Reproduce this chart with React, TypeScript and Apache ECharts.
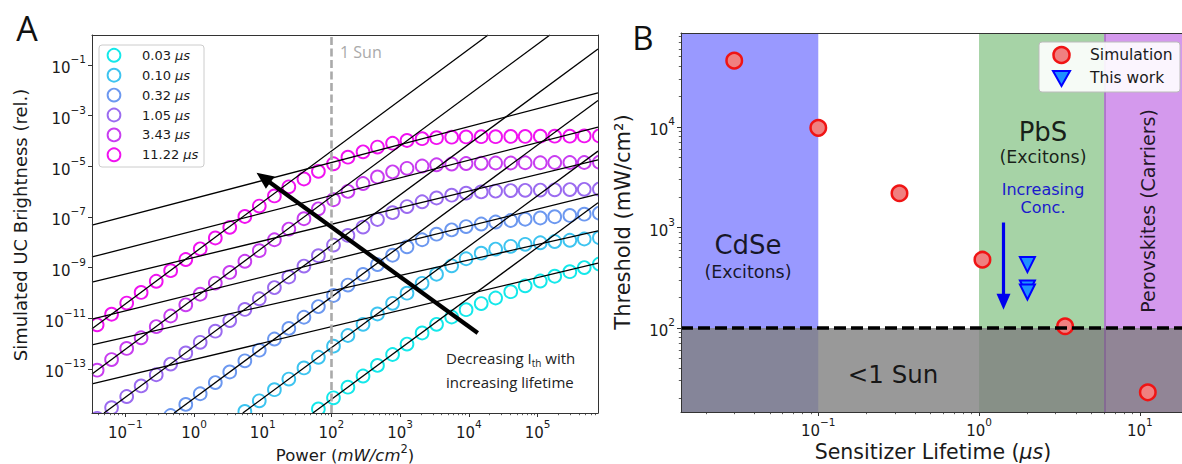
import React, { useEffect, useRef } from 'react';
import * as echarts from 'echarts';

// ---------------- Panel A: simulated UC brightness vs. excitation power ----------------
const lifetimeLabels = ['0.03', '0.10', '0.32', '1.05', '3.43', '11.22'];
const lifetimeColors = ['#14e8ea', '#3dc4f0', '#6c98f0', '#9b6bf0', '#c83df0', '#f012f0'];

// log10 of the excitation power at each simulated point (mW/cm^2)
const powerExp = [
  -1.41, -1.2, -0.98, -0.77, -0.55, -0.34, -0.12, 0.09, 0.31, 0.52, 0.74, 0.95, 1.17, 1.38, 1.6, 1.81, 2.03, 2.24,
  2.46, 2.67, 2.89, 3.1, 3.32, 3.53, 3.75, 3.96, 4.18, 4.39, 4.61, 4.82, 5.04, 5.25, 5.47, 5.68, 5.9,
];

// log10 of the simulated UC brightness for each sensitizer lifetime (null = below the plotted range)
const brightness003 = [
  null, null, null, null, null, null, null, null, null, null, null, null, null, null, null,
  -14.58, -14.14, -13.72, -13.28, -12.86, -12.43, -12.02, -11.58, -11.24, -10.95, -10.66, -10.42, -10.2, -9.95,
  -9.72, -9.53, -9.34, -9.16, -9.0, -8.86,
];
const brightness010 = [
  null, null, null, null, null, null, null, null, null, null,
  -14.68, -14.26, -13.82, -13.4, -12.96, -12.54, -12.1, -11.68, -11.24, -10.83, -10.41, -10.01, -9.62, -9.26,
  -8.93, -8.65, -8.43, -8.27, -8.16, -8.08, -8.02, -7.97, -7.92, -7.87, -7.82,
];
const brightness032 = [
  null, null, null, null, null,
  -14.84, -14.4, -13.98, -13.54, -13.12, -12.68, -12.26, -11.82, -11.4, -10.96, -10.54, -10.1, -9.69, -9.27,
  -8.88, -8.51, -8.18, -7.9, -7.68, -7.51, -7.38, -7.28, -7.2, -7.14, -7.09, -7.04, -6.99, -6.94, -6.89, -6.85,
];
const brightness105 = [
  -14.95, -14.53, -14.09, -13.67, -13.23, -12.81, -12.37, -11.95, -11.51, -11.09, -10.65, -10.23, -9.79, -9.37,
  -8.94, -8.53, -8.11, -7.73, -7.4, -7.1, -6.83, -6.59, -6.4, -6.25, -6.14, -6.06, -6.01, -5.98, -5.96, -5.95,
  -5.94, -5.93, -5.92, -5.91, -5.9,
];
const brightness343 = [
  -13.05, -12.63, -12.19, -11.77, -11.33, -10.91, -10.47, -10.05, -9.61, -9.19, -8.75, -8.33, -7.9, -7.48, -7.07,
  -6.68, -6.32, -5.99, -5.68, -5.42, -5.22, -5.08, -4.99, -4.94, -4.91, -4.89, -4.88, -4.87, -4.87, -4.86, -4.86,
  -4.85, -4.85, -4.85, -4.84,
];
const brightness1122 = [
  -11.26, -10.84, -10.4, -9.98, -9.54, -9.12, -8.68, -8.26, -7.83, -7.41, -6.98, -6.57, -6.17, -5.81, -5.5, -5.2,
  -4.9, -4.64, -4.43, -4.24, -4.09, -3.98, -3.91, -3.87, -3.85, -3.84, -3.83, -3.83, -3.82, -3.82, -3.81, -3.81,
  -3.81, -3.8, -3.8,
];
const brightnessSets = [brightness003, brightness010, brightness032, brightness105, brightness343, brightness1122];

// straight-line fits in log-log space, endpoints as [log10 P, log10 UC]
const quadraticFits = [
  [[1.73, -14.74], [5.88, -6.44]],
  [[0.71, -14.74], [5.88, -4.4]],
  [[-0.29, -14.74], [5.88, -2.4]],
  [[-1.31, -14.74], [5.88, -0.37]],
  [[-1.485, -13.2], [5.18, 0.184]],
  [[-1.485, -11.41], [4.28, 0.184]],
];
const saturationFits = [
  [[-1.485, -13.59], [5.88, -8.82]],
  [[-1.485, -12.05], [5.88, -7.55]],
  [[-1.485, -11.03], [5.88, -6.1]],
  [[-1.485, -9.57], [5.88, -4.75]],
  [[-1.485, -8.58], [5.88, -3.45]],
  [[-1.485, -7.32], [5.88, -2.1]],
];
const oneSunPower = 100;
const trendArrow = [[4.13, -11.58], [1.01, -5.45]];

// ---------------- Panel B: threshold vs. sensitizer lifetime ----------------
const simLifetime = [0.03, 0.1, 0.32, 1.05, 3.43, 11.22];
const simThreshold = [4.57e4, 9.8e3, 2.19e3, 478, 104, 22.9];
const workLifetime = [2.0, 2.0, 2.0];
const workThreshold = [427, 250, 228];
const cdseSpan = [0.014, 0.1];
const pbsSpan = [1.0, 6.0];
const perovSpan = [6.0, 20];
const sunThreshold = 100;
const concArrow = [[1.42, 1120], [1.42, 182]];

// axis extents (log10 units)
const aX = [-1.485, 5.88];
const aY = [-14.74, 0.184];
const bX = [-1.854, 1.3];
const bY = [1.164, 4.935];

const lg = (v: number) => Math.log10(v);
const DV = '"DejaVu Sans"';
const OS = '"Open Sans"';
const AX = '#333';
const INK = '#1a1a1a';

const powRich = {
  b: { fontSize: 15, fontFamily: 'DejaVu Sans', color: INK, lineHeight: 22, verticalAlign: 'bottom' },
  e: { fontSize: 10.5, fontFamily: 'DejaVu Sans', color: INK, lineHeight: 12, verticalAlign: 'top' },
};
const powLabel = (v: number) => {
  const n = Math.round(v);
  return `{b|10}{e|${n < 0 ? '\u2212' : ''}${Math.abs(n)}}`;
};
const ints = (a: number, b: number, step = 1) => {
  const out: number[] = [];
  for (let v = a; v <= b; v += step) out.push(v);
  return out;
};
const minorExps = (lo: number, hi: number) => {
  const out: number[] = [];
  for (let n = Math.floor(lo); n <= Math.ceil(hi); n++) {
    for (let m = 2; m <= 9; m++) {
      const v = n + Math.log10(m);
      if (v > lo && v < hi) out.push(v);
    }
  }
  return out;
};

const baseAxis = (gridIndex: number, ext: number[], position: string) => ({
  type: 'value',
  gridIndex,
  min: ext[0],
  max: ext[1],
  position,
  z: 10,
  splitLine: { show: false },
  axisPointer: { show: false },
});
const majorAxis = (gridIndex: number, ext: number[], majors: number[], position: string, margin = 6) => ({
  ...baseAxis(gridIndex, ext, position),
  axisLine: { show: true, onZero: false, lineStyle: { color: AX, width: 1 } },
  axisTick: { show: true, customValues: majors, length: 4, lineStyle: { color: AX, width: 1 } },
  axisLabel: { show: true, customValues: majors, formatter: powLabel, rich: powRich, margin },
});
const minorAxis = (gridIndex: number, ext: number[], position: string) => ({
  ...baseAxis(gridIndex, ext, position),
  axisLine: { show: false, onZero: false },
  axisTick: { show: true, customValues: minorExps(ext[0], ext[1]), length: 2.2, lineStyle: { color: AX, width: 0.8 } },
  axisLabel: { show: false },
});
const spineAxis = (gridIndex: number, ext: number[], position: string) => ({
  ...baseAxis(gridIndex, ext, position),
  axisLine: { show: true, onZero: false, lineStyle: { color: AX, width: 1 } },
  axisTick: { show: false },
  axisLabel: { show: false },
});

const txt = (x: number, y: number, text: string, font: string, fill: string, extra: any = {}) => ({
  type: 'text',
  x,
  y,
  z: 20,
  silent: true,
  rotation: extra.rotation || 0,
  style: {
    text,
    font,
    fill,
    align: extra.align || 'center',
    textAlign: extra.align || 'center',
    verticalAlign: 'middle',
    textVerticalAlign: 'middle',
    rich: extra.rich,
  },
});

function buildOption() {
  const series: any[] = [];

  // panel A: simulated points as open circles
  brightnessSets.forEach((vals, i) => {
    const color = lifetimeColors[i];
    series.push({
      type: 'custom',
      name: lifetimeLabels[i],
      xAxisIndex: 0,
      yAxisIndex: 0,
      clip: true,
      z: 2,
      silent: true,
      data: powerExp.map((p, k) => (vals[k] == null ? null : [p, vals[k]])).filter((d) => d !== null),
      renderItem: (_params: any, api: any) => {
        const c = api.coord([api.value(0), api.value(1)]);
        return {
          type: 'circle',
          shape: { cx: c[0], cy: c[1], r: 6.4 },
          style: { fill: 'none', stroke: color, lineWidth: 1.9 },
        };
      },
    });
  });

  // panel A: the two limiting power-law fits of each curve
  [...quadraticFits, ...saturationFits].forEach((seg) => {
    series.push({
      type: 'line',
      xAxisIndex: 0,
      yAxisIndex: 0,
      data: seg,
      symbol: 'none',
      showSymbol: false,
      silent: true,
      z: 3,
      lineStyle: { color: '#000', width: 1.3 },
    });
  });

  // panel A: 1 Sun marker
  series.push({
    type: 'line',
    xAxisIndex: 0,
    yAxisIndex: 0,
    data: [],
    z: 1,
    markLine: {
      silent: true,
      symbol: ['none', 'none'],
      label: { show: false },
      lineStyle: { color: '#aaaaaa', width: 2.6, type: [8, 3.5] },
      data: [{ xAxis: lg(oneSunPower) }],
    },
  });

  // panel A: trend arrow
  series.push({
    type: 'line',
    xAxisIndex: 0,
    yAxisIndex: 0,
    data: [],
    z: 5,
    markLine: {
      silent: true,
      label: { show: false },
      lineStyle: { color: '#000', width: 4.2, type: 'solid' },
      data: [[
        { coord: trendArrow[0], symbol: 'none' },
        { coord: trendArrow[1], symbol: 'triangle', symbolSize: [15, 17] },
      ]],
    },
  });

  // panel B: material regions
  const span = (s: number[], color: string) => [
    { xAxis: Math.max(lg(s[0]), bX[0]), yAxis: bY[0], itemStyle: { color, opacity: 1 } },
    { xAxis: Math.min(lg(s[1]), bX[1]), yAxis: bY[1] },
  ];
  series.push({
    type: 'line',
    xAxisIndex: 3,
    yAxisIndex: 2,
    data: [],
    z: 1,
    markArea: {
      silent: true,
      label: { show: false },
      data: [span(cdseSpan, '#9999ff'), span(pbsSpan, '#a6d3a6'), span(perovSpan, '#d499ed')],
    },
    markLine: {
      silent: true,
      symbol: ['none', 'none'],
      label: { show: false },
      lineStyle: { color: 'rgba(110,60,140,0.45)', width: 1.6, type: 'solid' },
      data: [{ xAxis: lg(perovSpan[0]) }],
    },
  });
  // panel B: below one-sun band
  series.push({
    type: 'line',
    xAxisIndex: 3,
    yAxisIndex: 2,
    data: [],
    z: 2,
    markArea: {
      silent: true,
      label: { show: false },
      data: [[
        { xAxis: bX[0], yAxis: bY[0], itemStyle: { color: 'rgba(128,128,128,0.8)', opacity: 1 } },
        { xAxis: bX[1], yAxis: lg(sunThreshold) },
      ]],
    },
  });
  series.push({
    type: 'line',
    xAxisIndex: 3,
    yAxisIndex: 2,
    data: [],
    z: 3,
    markLine: {
      silent: true,
      symbol: ['none', 'none'],
      label: { show: false },
      lineStyle: { color: '#000', width: 3.6, type: [12, 5] },
      data: [{ yAxis: lg(sunThreshold) }],
    },
  });
  series.push({
    type: 'scatter',
    name: 'Simulation',
    xAxisIndex: 3,
    yAxisIndex: 2,
    z: 4,
    silent: true,
    symbol: 'circle',
    symbolSize: 15.5,
    itemStyle: { color: '#f08080', borderColor: '#f01414', borderWidth: 2.5, opacity: 1 },
    data: simLifetime.map((t, i) => [lg(t), lg(simThreshold[i])]),
  });
  series.push({
    type: 'scatter',
    name: 'This work',
    xAxisIndex: 3,
    yAxisIndex: 2,
    z: 4,
    silent: true,
    symbol: 'triangle',
    symbolRotate: 180,
    symbolSize: 15,
    itemStyle: { color: '#1e90ff', borderColor: '#0000ff', borderWidth: 2, opacity: 1 },
    data: workLifetime.map((t, i) => [lg(t), lg(workThreshold[i])]),
  });
  series.push({
    type: 'line',
    xAxisIndex: 3,
    yAxisIndex: 2,
    data: [],
    z: 5,
    markLine: {
      silent: true,
      label: { show: false },
      lineStyle: { color: '#0000ee', width: 3.2, type: 'solid' },
      data: [[
        { coord: [lg(concArrow[0][0]), lg(concArrow[0][1])], symbol: 'none' },
        { coord: [lg(concArrow[1][0]), lg(concArrow[1][1])], symbol: 'triangle', symbolSize: [14, 16] },
      ]],
    },
  });

  const legendA: any[] = [
    {
      type: 'rect',
      z: 19,
      silent: true,
      shape: { x: 99, y: 45, width: 105, height: 122, r: 3 },
      style: { fill: 'rgba(255,255,255,0.8)', stroke: '#cccccc', lineWidth: 1 },
    },
  ];
  lifetimeLabels.forEach((lab, i) => {
    const y = 55.3 + i * 19.9;
    legendA.push({
      type: 'circle',
      z: 20,
      silent: true,
      shape: { cx: 114, cy: y, r: 6.4 },
      style: { fill: 'none', stroke: lifetimeColors[i], lineWidth: 1.9 },
    });
    legendA.push(
      txt(142, y, `{n|${lab} }{i|\u03bcs}`, `13px ${DV}`, INK, {
        align: 'left',
        rich: {
          n: { fontSize: 13, fontFamily: 'DejaVu Sans', color: INK },
          i: { fontSize: 13, fontFamily: 'DejaVu Sans', fontStyle: 'italic', color: INK },
        },
      })
    );
  });

  const powerRich = {
    n: { fontSize: 16.5, fontFamily: 'DejaVu Sans', color: INK, lineHeight: 21, verticalAlign: 'bottom' },
    i: { fontSize: 16.5, fontFamily: 'DejaVu Sans', fontStyle: 'italic', color: INK, lineHeight: 21, verticalAlign: 'bottom' },
    s: { fontSize: 11.5, fontFamily: 'DejaVu Sans', color: INK, lineHeight: 13, verticalAlign: 'top' },
  };
  const lifetimeRich = {
    n: { fontSize: 20.5, fontFamily: 'DejaVu Sans', color: INK },
    i: { fontSize: 20.5, fontFamily: 'DejaVu Sans', fontStyle: 'italic', color: INK },
  };

  const regionInk = 'rgba(0,0,0,0.85)';
  const graphics: any[] = [
    // panel letters
    txt(27, 28, 'A', `34px ${OS}`, '#111'),
    txt(643, 37, 'B', `33px ${OS}`, '#111'),
    // panel A labels and annotations
    txt(20, 225, 'Simulated UC Brightness (rel.)', `18px ${DV}`, INK, { rotation: Math.PI / 2 }),
    txt(345, 453.5, '{n|Power (}{i|mW/cm}{s|2}{n|)}', `16.5px ${DV}`, INK, { rich: powerRich }),
    txt(340, 52, '1 Sun', `16px ${OS}`, '#aaaaaa', { align: 'left' }),
    txt(446, 359, '{t|Decreasing I}{s|th}{t| with}', `15px ${OS}`, '#222', {
      align: 'left',
      rich: {
        t: { fontSize: 15, fontFamily: 'Open Sans', color: '#222', lineHeight: 18, verticalAlign: 'top' },
        s: { fontSize: 10, fontFamily: 'Open Sans', color: '#222', lineHeight: 10, verticalAlign: 'bottom' },
      },
    }),
    txt(446, 382, 'increasing lifetime', `15px ${OS}`, '#222', { align: 'left' }),
    ...legendA,
    // panel B labels
    txt(623, 222, 'Threshold (mW/cm\u00b2)', `21px ${DV}`, INK, { rotation: Math.PI / 2 }),
    txt(933, 452, '{n|Sensitizer Lifetime (}{i|\u03bcs}{n|)}', `20.5px ${DV}`, INK, { rich: lifetimeRich }),
    txt(748, 245, 'CdSe', `26px ${DV}`, regionInk),
    txt(748, 272, '(Excitons)', `17.5px ${DV}`, regionInk),
    txt(1043, 132, 'PbS', `26px ${DV}`, regionInk),
    txt(1043, 157, '(Excitons)', `17.5px ${DV}`, regionInk),
    txt(1043, 189, 'Increasing', `16px ${DV}`, '#1a1acc'),
    txt(1043, 207, 'Conc.', `16px ${DV}`, '#1a1acc'),
    txt(893, 374, '<1 Sun', `24.5px ${DV}`, regionInk),
    txt(1148, 211, 'Perovskites (Carriers)', `19px ${DV}`, regionInk, { rotation: Math.PI / 2 }),
    // panel B legend
    {
      type: 'rect',
      z: 19,
      silent: true,
      shape: { x: 1039, y: 42, width: 141, height: 50, r: 3 },
      style: { fill: 'rgba(255,255,255,0.9)', stroke: '#bbbbbb', lineWidth: 1 },
    },
    {
      type: 'circle',
      z: 20,
      silent: true,
      shape: { cx: 1061.5, cy: 55, r: 8 },
      style: { fill: '#f08080', stroke: '#f01414', lineWidth: 2.5 },
    },
    {
      type: 'polygon',
      z: 20,
      silent: true,
      shape: { points: [[1053, 71], [1070, 71], [1061.5, 86]] },
      style: { fill: '#1e90ff', stroke: '#0000ff', lineWidth: 2 },
    },
    txt(1090, 55, 'Simulation', `15.5px ${DV}`, INK, { align: 'left' }),
    txt(1090, 78, 'This work', `15.5px ${DV}`, INK, { align: 'left' }),
  ];

  return {
    animation: false,
    backgroundColor: '#ffffff',
    textStyle: { fontFamily: 'DejaVu Sans' },
    grid: [
      { left: 92, top: 35, width: 506, height: 378, containLabel: false, outerBoundsMode: 'none' },
      { left: 681, top: 33, width: 507, height: 379, containLabel: false, outerBoundsMode: 'none' },
    ],
    xAxis: [
      majorAxis(0, aX, ints(-1, 5), 'bottom', 5),
      minorAxis(0, aX, 'bottom'),
      spineAxis(0, aX, 'top'),
      majorAxis(1, bX, ints(-1, 1), 'bottom', 4),
      minorAxis(1, bX, 'bottom'),
      spineAxis(1, bX, 'top'),
    ],
    yAxis: [
      majorAxis(0, aY, ints(-13, -1, 2), 'left'),
      spineAxis(0, aY, 'right'),
      majorAxis(1, bY, ints(2, 4), 'left'),
      minorAxis(1, bY, 'left'),
      spineAxis(1, bY, 'right'),
    ],
    series,
    graphic: { elements: graphics },
  };
}

export default function App() {
  const ref = useRef<HTMLDivElement>(null);
  useEffect(() => {
    if (!ref.current) return;
    const chart = echarts.init(ref.current, null, { renderer: 'svg' });
    chart.setOption(buildOption() as any);
    return () => chart.dispose();
  }, []);
  return (
    <div
      ref={ref}
      style={{ position: 'absolute', left: 0, top: 0, width: 1182, height: 464, background: '#fff' }}
    />
  );
}
